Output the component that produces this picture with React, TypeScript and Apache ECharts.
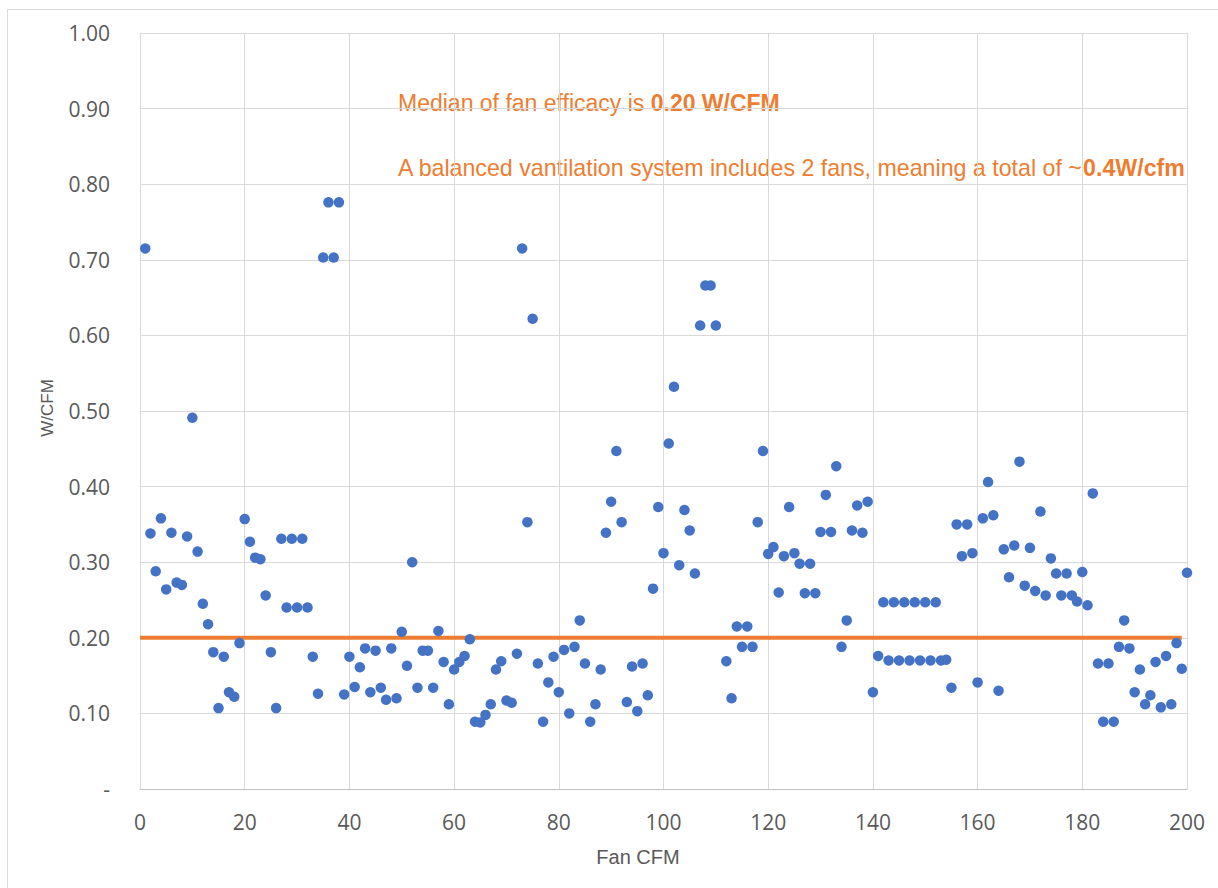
import React, { useEffect, useRef } from "react";
import * as echarts from "echarts";

// W/CFM for fan CFM = 1..200 (null = no measurement at that CFM)
const wPerCfm: (number | null)[] = [
  0.715, 0.338, 0.288, 0.358, 0.264, 0.339, 0.273, 0.270, 0.334, 0.491,
  0.314, 0.245, 0.218, 0.181, 0.107, 0.175, 0.128, 0.122, 0.193, 0.357,
  0.327, 0.306, 0.304, 0.256, 0.181, 0.107, 0.331, 0.240, 0.331, 0.240,
  0.331, 0.240, 0.175, 0.126, 0.703, 0.776, 0.703, 0.776, 0.125, 0.175,
  0.135, 0.161, 0.186, 0.128, 0.183, 0.134, 0.118, 0.186, 0.120, 0.208,
  0.163, 0.300, 0.134, 0.183, 0.183, 0.134, 0.209, 0.168, 0.112, 0.158,
  0.168, 0.176, 0.198, 0.089, 0.088, 0.098, 0.112, 0.158, 0.169, 0.117,
  0.114, 0.179, 0.715, 0.353, 0.622, 0.166, 0.089, 0.141, 0.175, 0.128,
  0.184, 0.100, 0.188, 0.223, 0.166, 0.089, 0.112, 0.158, 0.339, 0.380,
  0.447, 0.353, 0.115, 0.162, 0.103, 0.166, 0.124, 0.265, 0.373, 0.312,
  0.457, 0.532, 0.296, 0.369, 0.342, 0.285, 0.613, 0.666, 0.666, 0.613,
  null, 0.169, 0.120, 0.215, 0.188, 0.215, 0.188, 0.353, 0.447, 0.311,
  0.320, 0.260, 0.308, 0.373, 0.312, 0.298, 0.259, 0.298, 0.259, 0.340,
  0.389, 0.340, 0.427, 0.188, 0.223, 0.342, 0.375, 0.339, 0.380, 0.128,
  0.176, 0.247, 0.170, 0.247, 0.170, 0.247, 0.170, 0.247, 0.170, 0.247,
  0.170, 0.247, 0.170, 0.171, 0.134, 0.350, 0.308, 0.350, 0.312, 0.141,
  0.358, 0.406, 0.362, 0.130, 0.317, 0.280, 0.322, 0.433, 0.269, 0.319,
  0.262, 0.367, 0.256, 0.305, 0.285, 0.256, 0.285, 0.256, 0.248, 0.287,
  0.243, 0.391, 0.166, 0.089, 0.166, 0.089, 0.188, 0.223, 0.186, 0.128,
  0.158, 0.112, 0.124, 0.168, 0.108, 0.176, 0.112, 0.193, 0.159, 0.286,
];

const medianX = [0, 199];
const medianY = [0.2, 0.2];

const xTicks = [0, 20, 40, 60, 80, 100, 120, 140, 160, 180, 200];
const yTickLabels = ["-", "0.10", "0.20", "0.30", "0.40", "0.50", "0.60", "0.70", "0.80", "0.90", "1.00"];

const xTitle = "Fan CFM";
const yTitle = "W/CFM";
const note1a = "Median of fan efficacy is ";
const note1b = "0.20 W/CFM";
const note2a = "A balanced vantilation system includes 2 fans, meaning a total of ~";
const note2b = "0.4W/cfm";

export default function App() {
  const ref = useRef<HTMLDivElement>(null);
  useEffect(() => {
    document.body.style.margin = "0";
    if (!ref.current) return;
    const chart = echarts.init(ref.current, undefined, { renderer: "svg" });
    const pts: [number, number][] = [];
    wPerCfm.forEach((v, i) => {
      if (v !== null) pts.push([i + 1, v]);
    });
    const orange = "#ED7D31";
    const tickFont = "'Open Sans', 'Liberation Sans', sans-serif";
    const textFont = "'Liberation Sans', Arial, sans-serif";
    chart.setOption({
      animation: false,
      backgroundColor: "#ffffff",
      grid: { left: 140, right: 31, top: 33, bottom: 99, containLabel: false },
      xAxis: {
        type: "value",
        min: xTicks[0],
        max: xTicks[xTicks.length - 1],
        interval: 20,
        axisLine: { show: true, lineStyle: { color: "#bfbfbf", width: 1 } },
        axisTick: { show: false },
        splitLine: { show: true, lineStyle: { color: "#d9d9d9", width: 1 } },
        axisLabel: { color: "#595959", fontSize: 21, fontFamily: tickFont, margin: 22 },
      },
      yAxis: {
        type: "value",
        min: 0,
        max: 1,
        interval: 0.1,
        axisLine: { show: false },
        axisTick: { show: false },
        splitLine: { show: true, lineStyle: { color: "#d9d9d9", width: 1 } },
        axisLabel: {
          color: "#595959",
          fontSize: 21,
          fontFamily: tickFont,
          margin: 30,
          formatter: (v: number) => yTickLabels[Math.round(v * 10)],
        },
      },
      series: [
        {
          type: "scatter",
          data: pts,
          symbol: "circle",
          symbolSize: 10.5,
          itemStyle: { color: "#4472C4", opacity: 1 },
          z: 3,
        },
        {
          type: "line",
          data: medianX.map((x, i) => [x, medianY[i]]),
          symbol: "none",
          lineStyle: { color: orange, width: 4 },
          z: 2,
        },
      ],
      graphic: [
        {
          type: "rect",
          shape: { x: 7.5, y: 9.5, width: 1240, height: 900 },
          style: { fill: "none", stroke: "#d9d9d9", lineWidth: 1 },
          silent: true,
        },
        {
          type: "text",
          x: 638,
          y: 857,
          style: {
            text: xTitle,
            fill: "#595959",
            font: `20px ${textFont}`,
            align: "center",
            verticalAlign: "middle",
          },
        },
        {
          type: "text",
          x: 47,
          y: 408,
          rotation: Math.PI / 2,
          style: {
            text: yTitle,
            fill: "#595959",
            font: `17px ${textFont}`,
            align: "center",
            verticalAlign: "middle",
          },
        },
        {
          type: "text",
          x: 398,
          y: 103,
          style: {
            text: `{n|${note1a}}{b|${note1b}}`,
            verticalAlign: "middle",
            rich: {
              n: { fill: orange, fontSize: 23, fontFamily: textFont },
              b: { fill: orange, fontSize: 23, fontFamily: textFont, fontWeight: "bold" },
            },
          },
        },
        {
          type: "text",
          x: 398,
          y: 168,
          style: {
            text: `{n|${note2a}}{b|${note2b}}`,
            verticalAlign: "middle",
            rich: {
              n: { fill: orange, fontSize: 23.2, fontFamily: textFont },
              b: { fill: orange, fontSize: 23.2, fontFamily: textFont, fontWeight: "bold" },
            },
          },
        },
      ],
    });
    return () => chart.dispose();
  }, []);
  return <div ref={ref} style={{ width: 1218, height: 888 }} />;
}
